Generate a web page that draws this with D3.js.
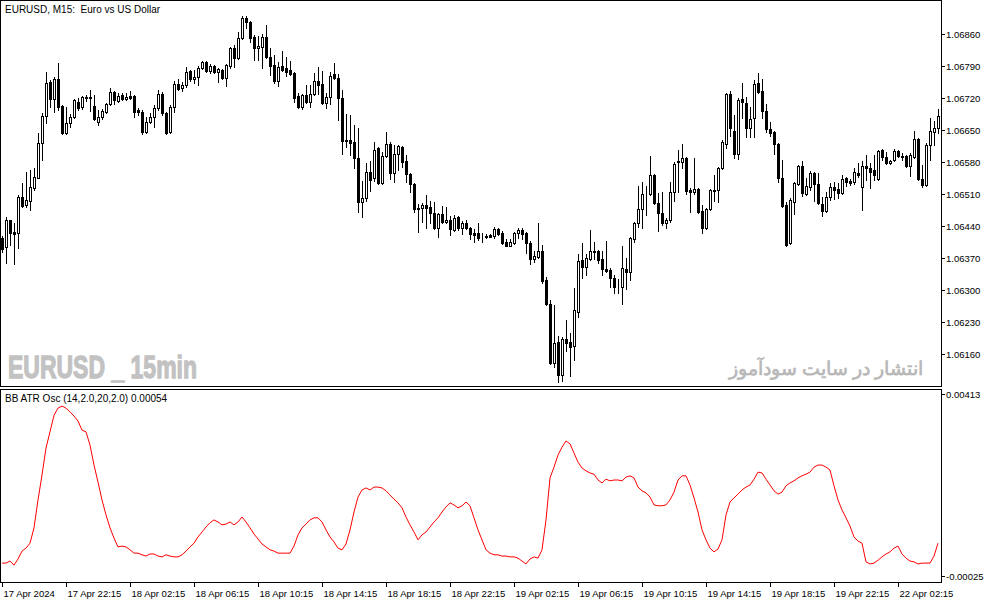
<!DOCTYPE html>
<html><head><meta charset="utf-8">
<script src="https://cdn.jsdelivr.net/npm/d3@7"></script>
<style>
body{margin:0;background:#fff}
svg{display:block}
text{font-family:"Liberation Sans",Arial,sans-serif;white-space:pre}
</style>
</head><body>
<svg id="c" width="994" height="603"></svg>
<script>
const opens=[1.06413,1.06394,1.06453,1.06426,1.06424,1.06503,1.06486,1.06494,1.06523,1.06545,
1.06621,1.06680,1.06755,1.06717,1.06761,1.06702,1.06643,1.06665,1.06678,1.06711,
1.06700,1.06720,1.06722,1.06702,1.06667,1.06678,1.06689,1.06706,1.06733,1.06713,
1.06726,1.06717,1.06724,1.06724,1.06693,1.06689,1.06645,1.06667,1.06678,1.06698,
1.06728,1.06687,1.06645,1.06700,1.06750,1.06741,1.06748,1.06779,1.06761,1.06766,
1.06785,1.06798,1.06779,1.06790,1.06776,1.06781,1.06763,1.06790,1.06829,1.06807,
1.06851,1.06895,1.06886,1.06853,1.06829,1.06831,1.06853,1.06809,1.06792,1.06757,
1.06790,1.06785,1.06781,1.06774,1.06724,1.06700,1.06726,1.06711,1.06728,1.06757,
1.06750,1.06709,1.06722,1.06772,1.06763,1.06720,1.06628,1.06628,1.06623,1.06588,
1.06492,1.06501,1.06558,1.06545,1.06610,1.06534,1.06593,1.06619,1.06556,1.06597,
1.06612,1.06582,1.06553,1.06531,1.06479,1.06479,1.06486,1.06481,1.06468,1.06435,
1.06466,1.06448,1.06453,1.06431,1.06459,1.06435,1.06446,1.06435,1.06424,1.06424,
1.06413,1.06418,1.06420,1.06418,1.06433,1.06424,1.06405,1.06396,1.06402,1.06424,
1.06431,1.06424,1.06402,1.06367,1.06372,1.06385,1.06321,1.06269,1.06140,1.06186,
1.06114,1.06192,1.06186,1.06177,1.06251,1.06365,1.06350,1.06367,1.06385,1.06385,
1.06367,1.06346,1.06343,1.06326,1.06306,1.06306,1.06346,1.06339,1.06411,1.06446,
1.06477,1.06510,1.06510,1.06551,1.06490,1.06468,1.06446,1.06453,1.06514,1.06582,
1.06580,1.06588,1.06518,1.06514,1.06521,1.06472,1.06435,1.06477,1.06516,1.06518,
1.06566,1.06619,1.06728,1.06647,1.06597,1.06717,1.06709,1.06654,1.06676,1.06752,
1.06735,1.06691,1.06652,1.06645,1.06619,1.06545,1.06486,1.06402,1.06492,1.06531,
1.06571,1.06510,1.06525,1.06556,1.06531,1.06488,1.06472,1.06503,1.06525,1.06521,
1.06512,1.06545,1.06538,1.06536,1.06556,1.06525,1.06571,1.06566,1.06562,1.06542,
1.06606,1.06591,1.06577,1.06584,1.06604,1.06593,1.06593,1.06571,1.06591,1.06630,
1.06542,1.06529,1.06617,1.06645,1.06654];
const highs=[1.06418,1.06459,1.06453,1.06446,1.06507,1.06534,1.06558,1.06562,1.06566,1.06643,
1.06687,1.06776,1.06759,1.06766,1.06796,1.06704,1.06700,1.06685,1.06717,1.06720,
1.06724,1.06726,1.06737,1.06726,1.06693,1.06696,1.06709,1.06741,1.06735,1.06731,
1.06731,1.06731,1.06735,1.06726,1.06698,1.06693,1.06678,1.06687,1.06704,1.06737,
1.06733,1.06689,1.06704,1.06757,1.06761,1.06755,1.06787,1.06781,1.06781,1.06790,
1.06801,1.06801,1.06794,1.06792,1.06785,1.06783,1.06794,1.06831,1.06836,1.06864,
1.06899,1.06899,1.06888,1.06857,1.06855,1.06860,1.06879,1.06829,1.06814,1.06798,
1.06822,1.06809,1.06801,1.06776,1.06731,1.06728,1.06748,1.06748,1.06774,1.06787,
1.06779,1.06731,1.06776,1.06796,1.06772,1.06737,1.06685,1.06682,1.06661,1.06654,
1.06538,1.06577,1.06582,1.06623,1.06612,1.06601,1.06645,1.06623,1.06617,1.06617,
1.06615,1.06595,1.06556,1.06534,1.06488,1.06490,1.06507,1.06494,1.06492,1.06468,
1.06483,1.06481,1.06461,1.06464,1.06461,1.06451,1.06453,1.06437,1.06433,1.06446,
1.06424,1.06422,1.06422,1.06437,1.06435,1.06429,1.06411,1.06411,1.06426,1.06435,
1.06435,1.06426,1.06407,1.06385,1.06446,1.06398,1.06328,1.06278,1.06267,1.06199,
1.06197,1.06234,1.06206,1.06304,1.06378,1.06402,1.06378,1.06431,1.06405,1.06387,
1.06385,1.06407,1.06348,1.06332,1.06324,1.06396,1.06370,1.06416,1.06448,1.06527,
1.06536,1.06527,1.06593,1.06553,1.06512,1.06514,1.06457,1.06536,1.06580,1.06606,
1.06619,1.06591,1.06523,1.06588,1.06523,1.06486,1.06479,1.06521,1.06551,1.06569,
1.06628,1.06731,1.06735,1.06682,1.06720,1.06752,1.06722,1.06700,1.06759,1.06774,
1.06761,1.06706,1.06667,1.06647,1.06621,1.06584,1.06492,1.06501,1.06536,1.06573,
1.06582,1.06545,1.06560,1.06558,1.06556,1.06503,1.06514,1.06534,1.06536,1.06534,
1.06551,1.06547,1.06542,1.06566,1.06577,1.06582,1.06595,1.06577,1.06595,1.06606,
1.06608,1.06601,1.06584,1.06608,1.06606,1.06599,1.06595,1.06599,1.06647,1.06632,
1.06573,1.06621,1.06676,1.06669,1.06696];
const lows=[1.06383,1.06359,1.06398,1.06356,1.06391,1.06481,1.06481,1.06475,1.06518,1.06545,
1.06584,1.06665,1.06700,1.06689,1.06693,1.06641,1.06641,1.06656,1.06676,1.06693,
1.06696,1.06713,1.06691,1.06671,1.06661,1.06674,1.06687,1.06704,1.06706,1.06711,
1.06715,1.06715,1.06717,1.06678,1.06682,1.06641,1.06643,1.06665,1.06656,1.06693,
1.06682,1.06641,1.06643,1.06689,1.06737,1.06735,1.06744,1.06757,1.06752,1.06748,
1.06783,1.06776,1.06774,1.06774,1.06755,1.06761,1.06746,1.06785,1.06787,1.06805,
1.06849,1.06873,1.06842,1.06803,1.06803,1.06785,1.06807,1.06770,1.06752,1.06746,
1.06779,1.06768,1.06770,1.06711,1.06698,1.06696,1.06709,1.06700,1.06726,1.06728,
1.06706,1.06698,1.06706,1.06761,1.06671,1.06597,1.06612,1.06595,1.06566,1.06470,
1.06459,1.06494,1.06516,1.06538,1.06531,1.06531,1.06591,1.06542,1.06536,1.06562,
1.06569,1.06536,1.06514,1.06470,1.06426,1.06448,1.06435,1.06446,1.06433,1.06416,
1.06446,1.06446,1.06420,1.06429,1.06431,1.06422,1.06433,1.06411,1.06405,1.06409,
1.06405,1.06413,1.06416,1.06413,1.06420,1.06400,1.06396,1.06396,1.06400,1.06413,
1.06411,1.06381,1.06356,1.06361,1.06370,1.06315,1.06267,1.06138,1.06131,1.06098,
1.06101,1.06166,1.06111,1.06146,1.06241,1.06326,1.06332,1.06365,1.06367,1.06359,
1.06332,1.06339,1.06306,1.06293,1.06293,1.06269,1.06302,1.06321,1.06405,1.06437,
1.06435,1.06464,1.06507,1.06488,1.06429,1.06442,1.06435,1.06448,1.06494,1.06514,
1.06566,1.06510,1.06470,1.06510,1.06468,1.06424,1.06433,1.06475,1.06494,1.06492,
1.06564,1.06610,1.06636,1.06588,1.06586,1.06676,1.06634,1.06634,1.06634,1.06731,
1.06676,1.06645,1.06636,1.06597,1.06536,1.06481,1.06396,1.06400,1.06466,1.06529,
1.06505,1.06507,1.06518,1.06494,1.06488,1.06461,1.06470,1.06496,1.06499,1.06501,
1.06510,1.06527,1.06529,1.06531,1.06547,1.06475,1.06540,1.06523,1.06540,1.06540,
1.06584,1.06575,1.06575,1.06582,1.06591,1.06584,1.06569,1.06549,1.06588,1.06540,
1.06525,1.06527,1.06584,1.06617,1.06643];
const closes=[1.06389,1.06453,1.06424,1.06422,1.06503,1.06483,1.06496,1.06525,1.06547,1.06621,
1.06680,1.06752,1.06717,1.06761,1.06700,1.06643,1.06665,1.06678,1.06715,1.06698,
1.06722,1.06722,1.06720,1.06674,1.06678,1.06691,1.06706,1.06733,1.06715,1.06724,
1.06717,1.06722,1.06720,1.06689,1.06689,1.06645,1.06667,1.06678,1.06698,1.06728,
1.06687,1.06643,1.06700,1.06750,1.06739,1.06748,1.06776,1.06761,1.06766,1.06785,
1.06798,1.06779,1.06790,1.06776,1.06783,1.06763,1.06792,1.06829,1.06807,1.06851,
1.06895,1.06886,1.06851,1.06829,1.06833,1.06853,1.06809,1.06790,1.06757,1.06787,
1.06781,1.06776,1.06772,1.06720,1.06700,1.06726,1.06711,1.06728,1.06757,1.06748,
1.06709,1.06722,1.06768,1.06763,1.06720,1.06626,1.06626,1.06621,1.06588,1.06492,
1.06501,1.06558,1.06540,1.06606,1.06534,1.06593,1.06619,1.06556,1.06597,1.06615,
1.06580,1.06553,1.06531,1.06477,1.06477,1.06486,1.06479,1.06468,1.06435,1.06466,
1.06448,1.06453,1.06433,1.06457,1.06435,1.06446,1.06435,1.06422,1.06420,1.06413,
1.06413,1.06416,1.06416,1.06433,1.06422,1.06402,1.06396,1.06405,1.06424,1.06431,
1.06422,1.06402,1.06367,1.06374,1.06385,1.06319,1.06269,1.06140,1.06184,1.06114,
1.06192,1.06184,1.06175,1.06256,1.06363,1.06350,1.06370,1.06385,1.06383,1.06365,
1.06346,1.06341,1.06326,1.06306,1.06307,1.06348,1.06339,1.06413,1.06446,1.06477,
1.06510,1.06511,1.06551,1.06490,1.06468,1.06446,1.06453,1.06514,1.06575,1.06580,
1.06588,1.06516,1.06514,1.06521,1.06470,1.06435,1.06477,1.06518,1.06518,1.06566,
1.06623,1.06728,1.06654,1.06597,1.06715,1.06711,1.06654,1.06674,1.06750,1.06733,
1.06691,1.06652,1.06643,1.06619,1.06545,1.06483,1.06398,1.06496,1.06534,1.06571,
1.06512,1.06527,1.06556,1.06531,1.06490,1.06472,1.06503,1.06525,1.06518,1.06512,
1.06542,1.06536,1.06534,1.06558,1.06551,1.06571,1.06566,1.06558,1.06551,1.06604,
1.06591,1.06577,1.06582,1.06604,1.06593,1.06592,1.06571,1.06595,1.06630,1.06542,
1.06529,1.06617,1.06647,1.06654,1.06680];
const oscValues=[0.00006,0.00006,0.00011,0.00001,0.00016,0.00035,0.00042,0.00054,0.00091,0.00158,
0.00218,0.00283,0.00322,0.00362,0.00379,0.00384,0.00379,0.00370,0.00360,0.00348,
0.00326,0.00322,0.00290,0.00242,0.00201,0.00158,0.00122,0.00091,0.00066,0.00045,
0.00047,0.00045,0.00038,0.00030,0.00030,0.00026,0.00023,0.00028,0.00028,0.00023,
0.00021,0.00026,0.00023,0.00021,0.00021,0.00026,0.00035,0.00045,0.00054,0.00069,
0.00081,0.00093,0.00103,0.00110,0.00105,0.00098,0.00100,0.00105,0.00098,0.00105,
0.00117,0.00105,0.00091,0.00076,0.00064,0.00052,0.00045,0.00038,0.00035,0.00030,
0.00030,0.00030,0.00030,0.00047,0.00074,0.00091,0.00100,0.00110,0.00115,0.00115,
0.00105,0.00086,0.00069,0.00057,0.00042,0.00038,0.00052,0.00086,0.00129,0.00165,
0.00182,0.00187,0.00182,0.00189,0.00189,0.00187,0.00180,0.00170,0.00160,0.00151,
0.00139,0.00117,0.00098,0.00081,0.00062,0.00074,0.00081,0.00093,0.00105,0.00115,
0.00129,0.00141,0.00151,0.00146,0.00139,0.00144,0.00153,0.00144,0.00115,0.00086,
0.00062,0.00038,0.00030,0.00026,0.00026,0.00023,0.00023,0.00021,0.00021,0.00018,
0.00011,0.00004,0.00016,0.00021,0.00018,0.00038,0.00110,0.00211,0.00237,0.00266,
0.00285,0.00300,0.00293,0.00271,0.00249,0.00235,0.00228,0.00223,0.00220,0.00206,
0.00199,0.00208,0.00204,0.00206,0.00206,0.00204,0.00213,0.00216,0.00211,0.00189,
0.00180,0.00175,0.00165,0.00146,0.00144,0.00144,0.00146,0.00158,0.00177,0.00206,
0.00216,0.00216,0.00194,0.00163,0.00129,0.00086,0.00062,0.00042,0.00033,0.00040,
0.00062,0.00122,0.00153,0.00163,0.00172,0.00182,0.00189,0.00194,0.00208,0.00225,
0.00223,0.00208,0.00194,0.00180,0.00172,0.00177,0.00192,0.00199,0.00204,0.00211,
0.00216,0.00220,0.00225,0.00237,0.00242,0.00242,0.00237,0.00230,0.00192,0.00158,
0.00134,0.00115,0.00095,0.00069,0.00059,0.00054,0.00009,0.00004,0.00006,0.00013,
0.00021,0.00028,0.00033,0.00042,0.00047,0.00028,0.00018,0.00011,0.00009,0.00004,
0.00006,0.00006,0.00006,0.00023,0.00054];
const timeLabels=["17 Apr 2024","17 Apr 22:15","18 Apr 02:15","18 Apr 06:15","18 Apr 10:15","18 Apr 14:15","18 Apr 18:15","18 Apr 22:15","19 Apr 02:15","19 Apr 06:15","19 Apr 10:15","19 Apr 14:15","19 Apr 18:15","19 Apr 22:15","22 Apr 02:15"];
const labelBars=[0,16,32,48,64,80,96,112,128,144,160,176,192,208,224];
const priceTicks=[1.06860,1.06790,1.06720,1.06650,1.06580,1.06510,1.06440,1.06370,1.06300,1.06230,1.06160];
const oscTicks=[0.00413,-0.00025];
const title="EURUSD, M15:  Euro vs US Dollar";
const oscName="BB ATR Osc (14,2.0,20,2.0)";

const svg=d3.select('#c');
const n=opens.length;
const x=d3.scaleLinear().domain([0,234]).range([2,938]);
const y=d3.scaleLinear().domain([1.06160,1.06860]).range([354,34]);
const yo=d3.scaleLinear().domain([-0.00025,0.00413]).range([576,394]);

const defs=svg.append('defs');
defs.append('clipPath').attr('id','cp1').append('rect').attr('x',1).attr('y',1).attr('width',940).attr('height',385);
defs.append('clipPath').attr('id','cp2').append('rect').attr('x',1).attr('y',390).attr('width',940).attr('height',191);

// watermarks
svg.append('text').attr('x',8).attr('y',378).attr('font-size',32).attr('font-weight','bold')
  .attr('font-family','"Liberation Sans",Arial,sans-serif')
  .attr('fill','#c2c2c2').attr('stroke','#c2c2c2').attr('stroke-width',1.3)
  .attr('textLength',189).attr('lengthAdjust','spacingAndGlyphs')
  .text('EURUSD _ 15min');
svg.append('text').attr('x',826).attr('y',375).attr('font-size',19).attr('font-weight','bold')
  .attr('font-family','"DejaVu Sans",sans-serif').attr('text-anchor','middle')
  .attr('fill','#b9b9b9').text('انتشار در سایت سودآموز');

// candles
const cg=svg.append('g').attr('clip-path','url(#cp1)').attr('shape-rendering','crispEdges');
const idx=d3.range(n);
cg.selectAll('line.w').data(idx).join('line').attr('class','w')
  .attr('x1',i=>x(i)+0.5).attr('x2',i=>x(i)+0.5)
  .attr('y1',i=>Math.round(y(highs[i]))).attr('y2',i=>Math.round(y(lows[i]))+1)
  .attr('stroke','#000');
cg.selectAll('rect.b').data(idx).join('rect').attr('class','b')
  .attr('x',i=>x(i)-0.5).attr('width',2)
  .attr('y',i=>Math.round(y(Math.max(opens[i],closes[i])))+0.5)
  .attr('height',i=>Math.max(0,Math.round(y(Math.min(opens[i],closes[i])))-Math.round(y(Math.max(opens[i],closes[i])))))
  .attr('fill',i=>closes[i]>=opens[i]?'#fff':'#000').attr('stroke','#000');

// oscillator
svg.append('path').datum(oscValues).attr('clip-path','url(#cp2)')
  .attr('d',d3.line().x((d,i)=>x(i)).y(d=>yo(d)))
  .attr('fill','none').attr('stroke','#ff0000').attr('stroke-width',1);

// frames
const fg=svg.append('g').attr('shape-rendering','crispEdges').attr('fill','none').attr('stroke','#000');
fg.append('rect').attr('x',0.5).attr('y',0.5).attr('width',941).attr('height',386);
fg.append('rect').attr('x',0.5).attr('y',389.5).attr('width',941).attr('height',193);

// text labels
svg.append('text').attr('x',5).attr('y',13).attr('font-size',10).text(title);
svg.append('text').attr('x',5).attr('y',402).attr('font-size',10).text(oscName+' '+d3.format('.5f')(oscValues[n-1]));

// price axis
const ay=svg.append('g').attr('transform','translate(941,0)')
  .call(d3.axisRight(y).tickValues(priceTicks).tickSize(4).tickPadding(1).tickFormat(d3.format('.5f')));
ay.select('.domain').remove();
const ao=svg.append('g').attr('transform','translate(941,0)')
  .call(d3.axisRight(yo).tickValues(oscTicks).tickSize(4).tickPadding(1).tickFormat(d3.format('.5f')));
ao.select('.domain').remove();
ao.selectAll('text').text(d=>d<0?'-'+d3.format('.5f')(-d):d3.format('.5f')(d));
const ax=svg.append('g').attr('transform','translate(0,582)')
  .call(d3.axisBottom(x).tickValues(labelBars).tickSize(5).tickPadding(3).tickFormat((d,k)=>timeLabels[k]));
ax.select('.domain').remove();
ax.selectAll('text').attr('text-anchor','start').attr('x',1);
svg.selectAll('.tick text').attr('font-family','"Liberation Sans",Arial,sans-serif').attr('font-size',9.5).attr('fill','#000');
svg.selectAll('.tick line').attr('stroke','#000').attr('shape-rendering','crispEdges');
</script>
</body></html>
